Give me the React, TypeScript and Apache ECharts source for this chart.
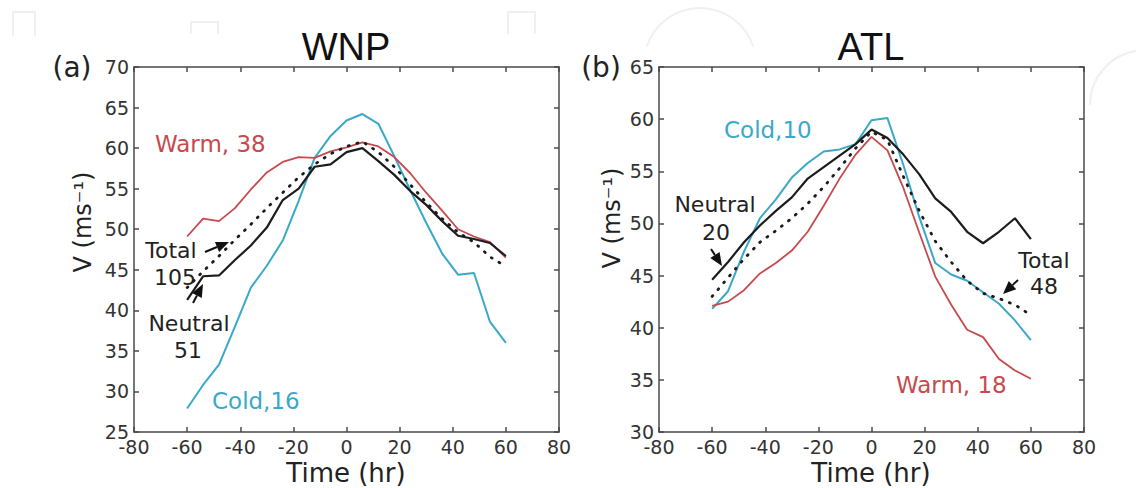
import React, { useEffect, useRef } from "react";
import * as echarts from "echarts";

const hours = [-60, -54, -48, -42, -36, -30, -24, -18, -12, -6, 0, 6, 12, 18, 24, 30, 36, 42, 48, 54, 60];

// (a) WNP
const wnpWarm = [49.1, 51.3, 51.0, 52.6, 54.9, 57.0, 58.3, 58.9, 58.8, 59.6, 60.1, 60.7, 60.2, 58.9, 56.9, 54.5, 52.3, 50.0, 49.1, 48.4, 46.5];
const wnpCold = [27.9, 30.8, 33.3, 38.0, 42.8, 45.5, 48.6, 53.5, 58.8, 61.5, 63.4, 64.2, 63.0, 59.0, 54.8, 50.8, 47.0, 44.4, 44.6, 38.6, 36.0];
const wnpNeutral = [41.3, 44.2, 44.3, 46.2, 48.0, 50.2, 53.6, 55.0, 57.7, 58.0, 59.5, 60.0, 58.4, 56.7, 54.7, 53.0, 51.0, 49.2, 48.8, 48.3, 46.7];
const wnpTotal = [42.8, 44.8, 46.7, 48.7, 50.6, 52.6, 54.5, 56.4, 58.0, 59.3, 60.2, 60.8, 59.5, 57.7, 55.5, 53.3, 51.3, 49.6, 48.4, 46.6, 45.4];

// (b) ATL
const atlWarm = [42.1, 42.5, 43.6, 45.2, 46.2, 47.4, 49.2, 51.7, 54.3, 56.6, 58.3, 57.0, 53.4, 49.1, 44.9, 42.2, 39.8, 39.1, 37.0, 35.9, 35.1];
const atlCold = [41.8, 43.5, 47.3, 50.5, 52.3, 54.4, 55.8, 56.9, 57.1, 57.6, 59.9, 60.1, 55.6, 50.6, 46.2, 45.1, 44.5, 43.4, 42.3, 40.7, 38.8];
const atlNeutral = [44.6, 46.3, 48.2, 49.8, 51.2, 52.5, 54.3, 55.4, 56.5, 57.6, 59.0, 58.2, 56.6, 54.7, 52.4, 51.1, 49.2, 48.1, 49.2, 50.5, 48.5];
const atlTotal = [43.0, 44.8, 46.6, 48.2, 49.3, 50.5, 51.9, 53.5, 55.3, 57.2, 58.8, 58.0, 54.5, 51.2, 48.3, 46.3, 44.5, 43.3, 42.8, 42.2, 41.2];

const xTicks = { min: -80, max: 80, interval: 20 };
const wnpY = { min: 25, max: 70, interval: 5 };
const atlY = { min: 30, max: 65, interval: 5 };

const RED = "#c64a4e";
const CYAN = "#3aa9c9";
const BLACK = "#1c1c1c";
const FONT = "DejaVu Sans";
const AXIS = "#4a4a4a";

function pairs(v: number[]) {
  return hours.map((h, i) => [h, v[i]]);
}

function arrow(x1: number, y1: number, x2: number, y2: number, head = 13, w = 11) {
  const dx = x2 - x1, dy = y2 - y1;
  const len = Math.sqrt(dx * dx + dy * dy);
  const ux = dx / len, uy = dy / len;
  const bx = x2 - ux * head, by = y2 - uy * head;
  const px = -uy * (w / 2), py = ux * (w / 2);
  return [
    { type: "line", shape: { x1, y1, x2: bx, y2: by }, style: { stroke: "#111", lineWidth: 2 } },
    { type: "polygon", shape: { points: [[x2, y2], [bx + px, by + py], [bx - px, by - py]] }, style: { fill: "#111" } },
  ];
}

function label(text: string, x: number, y: number, color = "#222", size = 22, align = "left") {
  return {
    type: "text",
    x,
    y,
    style: { text, fill: color, font: `${size}px "${FONT}"`, align, verticalAlign: "middle" },
  };
}

export default function App() {
  const ref = useRef<HTMLDivElement>(null);
  useEffect(() => {
    if (!ref.current) return;
    const chart = echarts.init(ref.current, null, { renderer: "svg" });

    const grids = [
      { left: 134, top: 67, width: 425, height: 365 },
      { left: 659, top: 67, width: 425, height: 365 },
    ];

    const lineStyle = { color: AXIS, width: 1.5 };
    const mkX = (gi: number, pos: string, showLabel: boolean) => ({
      type: "value",
      gridIndex: gi,
      position: pos,
      ...xTicks,
      axisLine: { show: true, onZero: false, lineStyle },
      axisTick: { show: true, inside: true, length: 5, lineStyle },
      axisLabel: { show: showLabel, fontSize: 19, color: "#333", fontFamily: FONT, margin: 5 },
      splitLine: { show: false },
    });
    const mkY = (gi: number, pos: string, showLabel: boolean, r: any) => ({
      type: "value",
      gridIndex: gi,
      position: pos,
      ...r,
      axisLine: { show: true, onZero: false, lineStyle },
      axisTick: { show: true, inside: true, length: 5, lineStyle },
      axisLabel: { show: showLabel, fontSize: 19, color: "#333", fontFamily: FONT, margin: 5 },
      splitLine: { show: false },
    });

    const ser = (name: string, xi: number, data: number[], color: string, width: number, dotted = false, z = 2) => ({
      name,
      type: "line",
      xAxisIndex: xi,
      yAxisIndex: xi,
      data: pairs(data),
      symbol: "none",
      z,
      lineStyle: dotted
        ? { color, width: 2.8, type: [1, 8], cap: "round" }
        : { color, width },
    });

    const wm = { stroke: "#f0f0f0", lineWidth: 2, fill: null };

    chart.setOption({
      animation: false,
      backgroundColor: "#ffffff",
      grid: grids,
      xAxis: [mkX(0, "bottom", true), mkX(1, "bottom", true), mkX(0, "top", false), mkX(1, "top", false)],
      yAxis: [mkY(0, "left", true, wnpY), mkY(1, "left", true, atlY), mkY(0, "right", false, wnpY), mkY(1, "right", false, atlY)],
      series: [
        ser("WNP Cold", 0, wnpCold, CYAN, 2, false, 2),
        ser("WNP Warm", 0, wnpWarm, RED, 1.8, false, 3),
        ser("WNP Neutral", 0, wnpNeutral, BLACK, 2.2, false, 4),
        ser("WNP Total", 0, wnpTotal, BLACK, 2, true, 5),
        ser("ATL Cold", 1, atlCold, CYAN, 2, false, 2),
        ser("ATL Warm", 1, atlWarm, RED, 1.8, false, 3),
        ser("ATL Neutral", 1, atlNeutral, BLACK, 2.2, false, 4),
        ser("ATL Total", 1, atlTotal, BLACK, 2, true, 5),
      ],
      graphic: [
        // faint watermark shapes at top
        { type: "polyline", z: -10, shape: { points: [[13, 36], [13, 12], [35, 12], [35, 36]] }, style: wm },
        { type: "polyline", z: -10, shape: { points: [[191, 34], [191, 22], [218, 22], [218, 34]] }, style: wm },
        { type: "polyline", z: -10, shape: { points: [[508, 34], [508, 12], [535, 12], [535, 34]] }, style: wm },
        { type: "arc", z: -10, shape: { cx: 700, cy: 64, r: 56, startAngle: Math.PI * 1.1, endAngle: Math.PI * 1.9 }, style: wm },
        { type: "arc", z: -10, shape: { cx: 1145, cy: 105, r: 55, startAngle: Math.PI * 1.0, endAngle: Math.PI * 1.45 }, style: wm },

        // titles and panel letters
        { type: "text", x: 346, y: 47, style: { text: "WNP", font: `38px "Liberation Sans"`, fill: "#111", align: "center", verticalAlign: "middle" } },
        { type: "text", x: 871, y: 47, style: { text: "ATL", font: `38px "Liberation Sans"`, fill: "#111", align: "center", verticalAlign: "middle" } },
        { type: "text", x: 72, y: 67, style: { text: "(a)", font: `28px "${FONT}"`, fill: "#222", align: "center", verticalAlign: "middle" } },
        { type: "text", x: 601, y: 67, style: { text: "(b)", font: `28px "${FONT}"`, fill: "#222", align: "center", verticalAlign: "middle" } },

        // axis names
        { type: "text", x: 346, y: 473, style: { text: "Time (hr)", font: `26px "${FONT}"`, fill: "#222", align: "center", verticalAlign: "middle" } },
        { type: "text", x: 871, y: 473, style: { text: "Time (hr)", font: `26px "${FONT}"`, fill: "#222", align: "center", verticalAlign: "middle" } },
        { type: "text", x: 83, y: 222, rotation: Math.PI / 2, style: { text: "V (ms⁻¹)", font: `24px "${FONT}"`, fill: "#222", align: "center", verticalAlign: "middle" } },
        { type: "text", x: 612, y: 218, rotation: Math.PI / 2, style: { text: "V (ms⁻¹)", font: `24px "${FONT}"`, fill: "#222", align: "center", verticalAlign: "middle" } },

        // panel (a) annotations
        label("Warm, 38", 155, 144, RED, 23),
        label("Total", 171, 250, "#222", 22, "center"),
        label("105", 175, 277, "#222", 22, "center"),
        label("Neutral", 189, 323, "#222", 22, "center"),
        label("51", 188, 350, "#222", 22, "center"),
        label("Cold,16", 212, 401, CYAN, 23),
        ...arrow(205, 252, 229, 242),
        ...arrow(193, 303, 203, 284),

        // panel (b) annotations
        label("Cold,10", 724, 130, CYAN, 23),
        label("Neutral", 715, 204, "#222", 22, "center"),
        label("20", 716, 232, "#222", 22, "center"),
        label("Total", 1044, 260, "#222", 22, "center"),
        label("48", 1044, 286, "#222", 22, "center"),
        label("Warm, 18", 896, 385, RED, 23),
        ...arrow(711, 249, 722, 266),
        ...arrow(1018, 280, 1003, 294),
      ],
    });
    return () => chart.dispose();
  }, []);
  return <div ref={ref} style={{ position: "fixed", left: 0, top: 0, width: 1140, height: 488 }} />;
}
